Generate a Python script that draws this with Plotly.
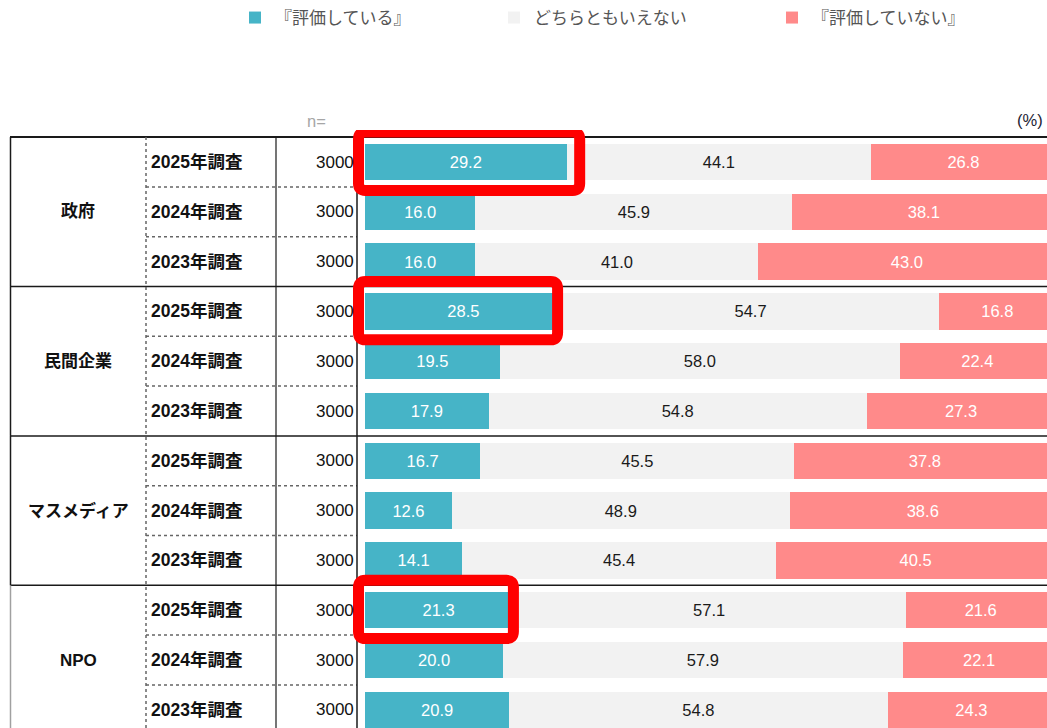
import plotly.graph_objects as go

# ---------------- data ----------------
groups = ["政府", "民間企業", "マスメディア", "NPO"]
years = ["2025年調査", "2024年調査", "2023年調査"]
n_values = [3000, 3000, 3000, 3000, 3000, 3000, 3000, 3000, 3000, 3000, 3000, 3000]
hyoka = [29.2, 16.0, 16.0, 28.5, 19.5, 17.9, 16.7, 12.6, 14.1, 21.3, 20.0, 20.9]
dochira = [44.1, 45.9, 41.0, 54.7, 58.0, 54.8, 45.5, 48.9, 45.4, 57.1, 57.9, 54.8]
not_hyoka = [26.8, 38.1, 43.0, 16.8, 22.4, 27.3, 37.8, 38.6, 40.5, 21.6, 22.1, 24.3]
series_names = ["『評価している』", "どちらともいえない", "『評価していない』"]
highlight_rows = [0, 3, 9]
highlight_right = [31.1, 27.9, 21.5]

# ---------------- style ----------------
W, H = 1047, 728
TOP = 130
BAR0_PX = 365.0
PX_PER_PCT = 6.903
ROW_PX = 49.8
ROW0_PX = 162.0

def to_x(px):
    return (px - BAR0_PX) / PX_PER_PCT

XMIN, XMAX = to_x(0), to_x(W)
YTOP = (TOP - ROW0_PX) / ROW_PX
YBOT = (H - ROW0_PX) / ROW_PX

def py_paper(px):
    return (H - px) / (H - TOP)

C_TEAL = "#46B4C7"
C_GRAY = "#F2F2F2"
C_RED = "#FF8A8A"
FONT = "Liberation Sans, Noto Sans CJK JP, sans-serif"
JFONT = "Noto Sans CJK JP, sans-serif"

rows = list(range(len(hyoka)))

fig = go.Figure()
series = [hyoka, dochira, not_hyoka]
colors = [C_TEAL, C_GRAY, C_RED]
txtcolors = ["white", "#1a1a1a", "white"]
legendwidths = [214, 233, 200]
for vals, name, col, tc, lw in zip(series, series_names, colors, txtcolors, legendwidths):
    fig.add_trace(go.Bar(
        x=vals, y=rows, orientation="h", name=name,
        marker=dict(color=col, line=dict(width=0)),
        texttemplate="%{x:.1f}", textposition="inside", insidetextanchor="middle",
        textangle=0, constraintext="none",
        textfont=dict(color=tc, size=16.5, family=FONT),
        hoverinfo="skip", legendwidth=lw,
    ))

shapes = []
black = "#1a1a1a"
# top border
shapes.append(dict(type="line", xref="x", yref="y", x0=to_x(10), x1=XMAX, y0=-0.5, y1=-0.5,
                   line=dict(color=black, width=2)))
# group separators
for g in range(1, len(groups)):
    yy = g * 3 - 0.5
    shapes.append(dict(type="line", xref="x", yref="y", x0=to_x(10), x1=XMAX, y0=yy, y1=yy,
                       line=dict(color=black, width=1.5)))
# dotted row separators inside groups
for r in rows[:-1]:
    if (r + 1) % 3 != 0:
        shapes.append(dict(type="line", xref="x", yref="y", x0=to_x(146), x1=to_x(357),
                           y0=r + 0.5, y1=r + 0.5, line=dict(color="#666666", width=1.5, dash="dot")))
# left border per group
for g in range(len(groups)):
    shapes.append(dict(type="line", xref="x", yref="y", x0=to_x(10.5), x1=to_x(10.5),
                       y0=g * 3 - 0.5, y1=g * 3 + 2.5 if g < len(groups) - 1 else YBOT + 1,
                       line=dict(color=black if g < len(groups) - 1 else "#A0A0A0", width=1.5)))
# column lines
shapes.append(dict(type="line", xref="x", yref="y", x0=to_x(146), x1=to_x(146), y0=-0.5, y1=YBOT + 1,
                   line=dict(color="#666666", width=1.5, dash="dot")))
shapes.append(dict(type="line", xref="x", yref="y", x0=to_x(276), x1=to_x(276), y0=-0.5, y1=YBOT + 1,
                   line=dict(color=black, width=1.2)))
shapes.append(dict(type="line", xref="x", yref="y", x0=to_x(357), x1=to_x(357), y0=-0.5, y1=YBOT + 1,
                   line=dict(color=black, width=1.5)))

# red highlight boxes
rx, ry = 1.0, 0.14
for r, right in zip(highlight_rows, highlight_right):
    x0, x1 = to_x(358.5), right
    y0, y1 = r - 0.6, r + 0.57
    path = (f"M{x0+rx},{y0} L{x1-rx},{y0} Q{x1},{y0} {x1},{y0+ry} "
            f"L{x1},{y1-ry} Q{x1},{y1} {x1-rx},{y1} L{x0+rx},{y1} "
            f"Q{x0},{y1} {x0},{y1-ry} L{x0},{y0+ry} Q{x0},{y0} {x0+rx},{y0} Z")
    shapes.append(dict(type="path", xref="x", yref="y", path=path,
                       line=dict(color="#FF0000", width=11), layer="above"))

annotations = []
for g, name in enumerate(groups):
    annotations.append(dict(xref="x", yref="y", x=to_x(78), y=g * 3 + 1, text=f"<b>{name}</b>",
                            showarrow=False, xanchor="center", yanchor="middle",
                            font=dict(size=17, color="#111111", family=FONT)))
for r in rows:
    annotations.append(dict(xref="x", yref="y", x=to_x(149), y=r, text=f"<b>{years[r % 3]}</b>",
                            showarrow=False, xanchor="left", yanchor="middle",
                            font=dict(size=17.5, color="#111111", family=FONT)))
    annotations.append(dict(xref="x", yref="y", x=to_x(356), y=r, text=str(n_values[r]),
                            showarrow=False, xanchor="right", yanchor="middle",
                            font=dict(size=17, color="#111111", family=FONT)))
annotations.append(dict(xref="x", yref="paper", x=to_x(316), y=py_paper(121), text="n=",
                        showarrow=False, xanchor="center", yanchor="middle",
                        font=dict(size=16.5, color="#A6A6A6", family=FONT)))
annotations.append(dict(xref="x", yref="paper", x=to_x(1045), y=py_paper(120), text="(%)",
                        showarrow=False, xanchor="right", yanchor="middle",
                        font=dict(size=16.5, color="#222233", family=FONT)))

fig.update_layout(
    width=W, height=H,
    margin=dict(l=0, r=0, t=TOP, b=0, pad=0),
    paper_bgcolor="white", plot_bgcolor="white",
    barmode="stack", bargap=0.27,
    showlegend=True,
    legend=dict(orientation="h", xref="container", yref="container",
                x=235 / W, xanchor="left", y=1.0, yanchor="top",
                font=dict(size=17, color="#555555", family=JFONT),
                bgcolor="rgba(0,0,0,0)", traceorder="normal"),
    xaxis=dict(range=[XMIN, XMAX], visible=False, fixedrange=True),
    yaxis=dict(range=[YBOT, YTOP], visible=False, fixedrange=True),
    shapes=shapes, annotations=annotations,
)

fig.write_html("out.html", config={"displayModeBar": False},
               post_script="document.body.style.margin='0';document.body.style.overflow='hidden';")
